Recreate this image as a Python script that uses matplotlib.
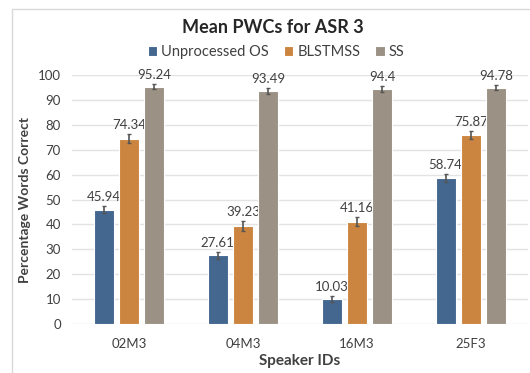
import matplotlib.pyplot as plt
from matplotlib.patches import Rectangle
import numpy as np

plt.rcParams["font.family"] = ["Lato", "DejaVu Sans"]

# Données
speakers = ["02M3", "04M3", "16M3", "25F3"]
series_names = ["Unprocessed OS", "BLSTMSS", "SS"]
unprocessed = [45.94, 27.61, 10.03, 58.74]
blstmss = [74.34, 39.23, 41.16, 75.87]
ss = [95.24, 93.49, 94.4, 94.78]
err_unprocessed = [1.5, 1.5, 1.2, 1.5]
err_blstmss = [1.8, 2.0, 1.8, 1.5]
err_ss = [1.0, 1.1, 1.1, 1.0]

colors = ["#44678f", "#cc8540", "#9b9184"]
txt_color = "#404040"

fig = plt.figure(figsize=(5.3, 3.73), dpi=100)
ax = fig.add_axes([0.136, 0.131, 0.86, 0.668])

# cadre du graphique (style Excel)
fig.patches.append(Rectangle((12 / 530, -0.1), 1.2, 1 - 9 / 373 + 0.1,
                             transform=fig.transFigure, fill=False,
                             edgecolor="#d9d9d9", linewidth=1))

x = np.arange(len(speakers))
width = 0.175
step = 0.222
all_vals = [unprocessed, blstmss, ss]
all_errs = [err_unprocessed, err_blstmss, err_ss]

for i, (vals, errs) in enumerate(zip(all_vals, all_errs)):
    pos = x + (i - 1) * step
    ax.bar(pos, vals, width, color=colors[i], edgecolor="white", linewidth=0.8,
           label=series_names[i], zorder=3)
    ax.errorbar(pos, vals, yerr=errs, fmt="none", ecolor="#555555",
                elinewidth=1.2, capsize=1.2, zorder=4)
    for p, v, e in zip(pos, vals, errs):
        ax.text(p, v + e + 1.2, f"{v:g}", ha="center", va="bottom",
                fontsize=9.5, color=txt_color, clip_on=False)

ax.set_xlim(-0.5, len(speakers) - 0.5)
ax.set_ylim(0, 100)
ax.set_yticks(range(0, 101, 10))
ax.set_xticks(x)
ax.set_xticklabels(speakers)
ax.tick_params(axis="both", length=0, labelsize=9.5, colors=txt_color)
ax.tick_params(axis="x", pad=10)
ax.tick_params(axis="y", pad=8)
ax.grid(axis="y", color="#e3e3e3", linewidth=1, zorder=0)
for s in ax.spines.values():
    s.set_visible(False)

ax.set_xlabel("Speaker IDs", fontsize=11, fontweight="bold", color=txt_color, labelpad=3)
ax.set_ylabel("Percentage Words Correct", fontsize=10, fontweight="bold", color=txt_color)
ax.yaxis.set_label_coords(-0.09, 0.5)

fig.text(0.515, 0.925, "Mean PWCs for ASR 3", ha="center", va="center",
         fontsize=13, fontweight="bold", color="#262626")
fig.legend(loc="center", bbox_to_anchor=(0.521, 0.86), ncol=3, frameon=False,
           fontsize=10.5, handlelength=0.65, handleheight=0.65, handletextpad=0.3,
           columnspacing=1.0, labelcolor=txt_color)

fig.savefig("out.png", dpi=100)
